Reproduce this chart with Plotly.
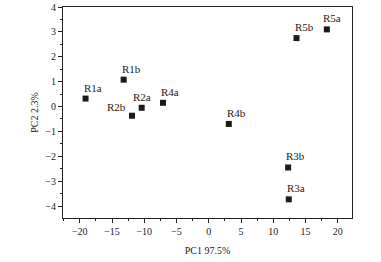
import plotly.graph_objects as go

labels = ["R1a", "R1b", "R2a", "R2b", "R4a", "R4b", "R5b", "R5a", "R3b", "R3a"]
pc1 = [-19.1, -13.2, -10.4, -11.9, -7.1, 3.1, 13.6, 18.3, 12.3, 12.4]
pc2 = [0.32, 1.08, -0.05, -0.37, 0.15, -0.7, 2.75, 3.1, -2.45, -3.73]
anchors = ["left", "left", "center", "right", "left", "left", "left", "left", "left", "left"]
xshifts = [-4, -4, 0, -4, -4, -4, -4, -6, -4, -4]
yshifts = [3, 3, 3, 1, 3, 3, 3, 3, 3, 3]

font = "Liberation Serif, Times New Roman, serif"

fig = go.Figure(go.Scatter(
    x=pc1, y=pc2, mode="markers",
    marker=dict(symbol="square", size=6, color="#1a1a1a"),
))

for lab, x, y, a, xs, ys in zip(labels, pc1, pc2, anchors, xshifts, yshifts):
    fig.add_annotation(x=x, y=y, text=lab, showarrow=False, xanchor=a, yanchor="bottom",
                       xshift=xs, yshift=ys, font=dict(family=font, size=11, color="#222"))

fig.update_layout(
    width=381, height=262,
    margin=dict(l=63, r=29, t=7, b=44),
    paper_bgcolor="white", plot_bgcolor="white",
    showlegend=False,
    font=dict(family=font, size=10, color="#222"),
)
fig.update_xaxes(
    range=[-22.6, 22.2], tickvals=[-20, -15, -10, -5, 0, 5, 10, 15, 20],
    ticks="outside", ticklen=4, tickcolor="#222", showgrid=False, zeroline=False,
    showline=True, linecolor="#222", linewidth=1, mirror=True, automargin=False,
    minor=dict(ticks="outside", ticklen=2, dtick=2.5, tickcolor="#222"),
    title=dict(text="PC1 97.5%", font=dict(size=10), standoff=10),
)
fig.update_yaxes(
    range=[-4.48, 4], tickvals=[-4, -3, -2, -1, 0, 1, 2, 3, 4],
    ticks="outside", ticklen=4, tickcolor="#222", showgrid=False, zeroline=False,
    showline=True, linecolor="#222", linewidth=1, mirror=True, automargin=False,
    minor=dict(ticks="outside", ticklen=2, dtick=0.5, tickcolor="#222"),
    title=dict(text="PC2 2.3%", font=dict(size=10), standoff=4),
)

fig.write_html("out.html", config={"displayModeBar": False},
               post_script="document.body.style.margin='0';")
